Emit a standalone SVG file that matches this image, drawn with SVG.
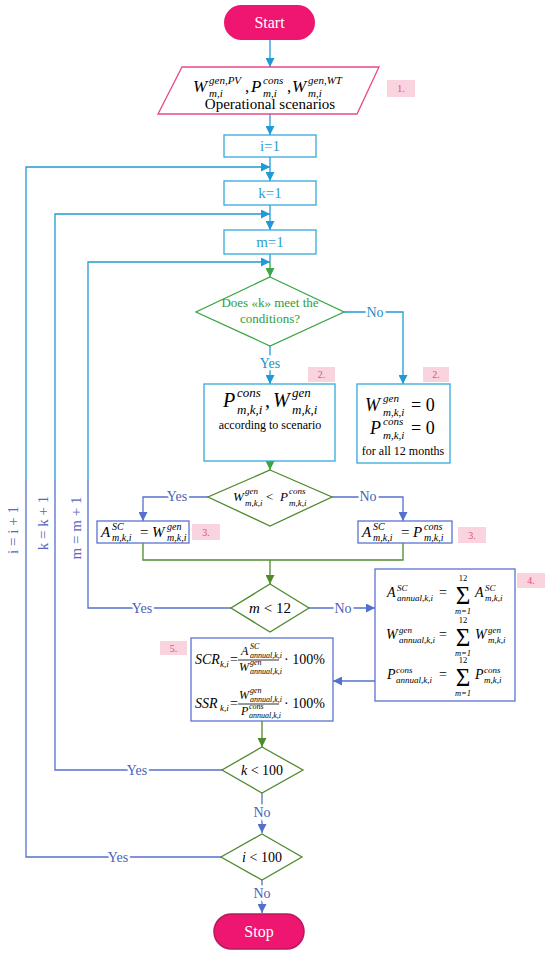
<svg xmlns="http://www.w3.org/2000/svg" width="550" height="954" viewBox="0 0 550 954" font-family="'Liberation Serif', 'Times New Roman', serif">
<style>
text{font-family:'Liberation Serif','Times New Roman',serif;fill:#000}
.mi{font-style:italic}
.cy{stroke:#1F9AD6;fill:none;stroke-width:1.3}
.gr{stroke:#3BA548;fill:none;stroke-width:1.3}
.ol{stroke:#4E8A2C;fill:none;stroke-width:1.3}
.vi{stroke:#5470CC;fill:none;stroke-width:1.3}
.bcy{fill:#fff;stroke:#35A9DA;stroke-width:1.3}
.bvi{fill:#fff;stroke:#5B73D2;stroke-width:1.3}
.dgr{fill:#fff;stroke:#3BA548;stroke-width:1.3}
.dol{fill:#fff;stroke:#4E8A2C;stroke-width:1.3}
.lab{fill:#F9D3DD}
.labt{fill:#E34D80;font-size:10px;text-anchor:middle}
.yn{font-size:14px;text-anchor:middle;paint-order:stroke;stroke:#fff;stroke-width:5px}
.yc{fill:#1F8FC8}
.yv{fill:#4A5FB8}
.loopt{font-size:15px;fill:#5468C0;text-anchor:middle;dominant-baseline:central}
.sig{font-size:25px;text-anchor:middle}
.lim{font-size:8.5px;text-anchor:middle}
</style>
<defs>
<marker id="aC" viewBox="0 0 10 10" refX="10" refY="5" markerUnits="userSpaceOnUse" markerWidth="9" markerHeight="9" orient="auto"><path d="M0,0 L10,5 L0,10 z" fill="#1F9AD6"/></marker>
<marker id="aG" viewBox="0 0 10 10" refX="10" refY="5" markerUnits="userSpaceOnUse" markerWidth="9" markerHeight="9" orient="auto"><path d="M0,0 L10,5 L0,10 z" fill="#3BA548"/></marker>
<marker id="aO" viewBox="0 0 10 10" refX="10" refY="5" markerUnits="userSpaceOnUse" markerWidth="9" markerHeight="9" orient="auto"><path d="M0,0 L10,5 L0,10 z" fill="#4E8A2C"/></marker>
<marker id="aV" viewBox="0 0 10 10" refX="10" refY="5" markerUnits="userSpaceOnUse" markerWidth="9" markerHeight="9" orient="auto"><path d="M0,0 L10,5 L0,10 z" fill="#5470CC"/></marker>
</defs>

<g id="connectors">
<path class="cy" d="M270,40 V67" marker-end="url(#aC)"/>
<path class="cy" d="M270,114 V135" marker-end="url(#aC)"/>
<path class="cy" d="M270,157 V181" marker-end="url(#aC)"/>
<path class="cy" d="M26,480 V167 H270" marker-end="url(#aC)"/>
<path class="cy" d="M270,205 V230" marker-end="url(#aC)"/>
<path class="cy" d="M55,480 V214 H270" marker-end="url(#aC)"/>
<path class="cy" d="M270,254 V262"/>
<path class="cy" d="M88,480 V262 H270" marker-end="url(#aC)"/>
<path class="gr" d="M270,262 V277" marker-end="url(#aG)"/>
<path class="cy" d="M344,312 H403 V384" marker-end="url(#aC)"/>
<path class="cy" d="M270,346 V384" marker-end="url(#aC)"/>
<path class="gr" d="M270,461 V470" marker-end="url(#aG)"/>
<path class="vi" d="M208,497 H143 V521" marker-end="url(#aV)"/>
<path class="vi" d="M332,497 H403 V521" marker-end="url(#aV)"/>
<path class="ol" d="M143,543 V560 H403 V543"/>
<path class="ol" d="M270,560 V584" marker-end="url(#aO)"/>
<path class="vi" d="M231,608 H88 V480"/>
<path class="vi" d="M309,608 H375" marker-end="url(#aV)"/>
<path class="vi" d="M375,681 H333" marker-end="url(#aV)"/>
<path class="ol" d="M262,721 V747" marker-end="url(#aO)"/>
<path class="vi" d="M222,770 H55 V480"/>
<path class="vi" d="M262,793 V833" marker-end="url(#aV)"/>
<path class="vi" d="M221,857 H26 V480"/>
<path class="vi" d="M262,880 V913" marker-end="url(#aV)"/>
<text class="yn yc" x="375" y="317">No</text>
<text class="yn yc" x="270" y="368">Yes</text>
<text class="yn yv" x="177" y="501">Yes</text>
<text class="yn yv" x="368" y="501">No</text>
<text class="yn yv" x="142" y="613">Yes</text>
<text class="yn yv" x="343" y="613">No</text>
<text class="yn yv" x="137" y="775">Yes</text>
<text class="yn yv" x="262" y="817">No</text>
<text class="yn yv" x="118" y="862">Yes</text>
<text class="yn yv" x="262" y="898">No</text>
<text class="loopt" transform="translate(13,530) rotate(-90)">i = i + 1</text>
<text class="loopt" transform="translate(43,523) rotate(-90)">k = k + 1</text>
<text class="loopt" transform="translate(76,528) rotate(-90)">m = m + 1</text>
</g>

<g id="start">
<rect x="224" y="5" width="91" height="35" rx="17.5" fill="#EE1670"/>
<text x="269.5" y="28" font-size="16" text-anchor="middle" style="fill:#fff">Start</text>
</g>

<g id="input">
<polygon points="182,67 379,67 357,114 158,114" fill="#fff" stroke="#E8488A" stroke-width="1.3"/>
<text class="mi" x="193" y="92" font-size="17">W</text>
<text class="mi" x="209" y="84" font-size="11">gen,PV</text>
<text class="mi" x="209" y="97" font-size="11">m,i</text>
<text x="245" y="92" font-size="17">,</text>
<text class="mi" x="251" y="92" font-size="17">P</text>
<text class="mi" x="263" y="84" font-size="11">cons</text>
<text class="mi" x="263" y="97" font-size="11">m,i</text>
<text x="287" y="92" font-size="17">,</text>
<text class="mi" x="292" y="92" font-size="17">W</text>
<text class="mi" x="308" y="84" font-size="11">gen,WT</text>
<text class="mi" x="308" y="97" font-size="11">m,i</text>
<text x="270" y="109" font-size="15" text-anchor="middle">Operational scenarios</text>
<rect class="lab" x="387" y="80" width="28" height="17"/>
<text class="labt" x="401" y="92">1.</text>
</g>

<g id="init_i">
<rect class="bcy" x="224" y="135" width="92" height="22"/>
<text x="270" y="151" font-size="15" text-anchor="middle" style="fill:#2A9FD6">i=1</text>
</g>
<g id="init_k">
<rect class="bcy" x="224" y="181" width="92" height="24"/>
<text x="270" y="198" font-size="15" text-anchor="middle" style="fill:#2A9FD6">k=1</text>
</g>
<g id="init_m">
<rect class="bcy" x="224" y="230" width="92" height="24"/>
<text x="270" y="247" font-size="15" text-anchor="middle" style="fill:#2A9FD6">m=1</text>
</g>

<g id="cond_k">
<polygon class="dgr" points="270,277 344,312 270,346 196,312"/>
<text x="270" y="307" font-size="13" text-anchor="middle" style="fill:#2E9B3F">Does «k» meet the</text>
<text x="270" y="323" font-size="13" text-anchor="middle" style="fill:#2E9B3F">conditions?</text>
</g>

<g id="scenario">
<rect class="bcy" x="204" y="384" width="131" height="77"/>
<text class="mi" x="223" y="407" font-size="20">P</text>
<text class="mi" x="237" y="397" font-size="13">cons</text>
<text class="mi" x="237" y="414" font-size="13">m,k,i</text>
<text x="265" y="407" font-size="20">,</text>
<text class="mi" x="273" y="407" font-size="20">W</text>
<text class="mi" x="292" y="397" font-size="13">gen</text>
<text class="mi" x="292" y="414" font-size="13">m,k,i</text>
<text x="270" y="429" font-size="12" text-anchor="middle">according to scenario</text>
<rect class="lab" x="308" y="367" width="27" height="15"/>
<text class="labt" x="321.5" y="378">2.</text>
</g>

<g id="zero">
<rect class="bcy" x="357" y="384" width="93" height="79"/>
<text class="mi" x="365" y="411" font-size="18">W</text>
<text class="mi" x="383" y="402" font-size="11">gen</text>
<text class="mi" x="383" y="416" font-size="11">m,k,i</text>
<text x="411" y="411" font-size="18">= 0</text>
<text class="mi" x="370" y="434" font-size="18">P</text>
<text class="mi" x="383" y="425" font-size="11">cons</text>
<text class="mi" x="383" y="439" font-size="11">m,k,i</text>
<text x="411" y="434" font-size="18">= 0</text>
<text x="403" y="455" font-size="12" text-anchor="middle">for all 12 months</text>
<rect class="lab" x="423" y="367" width="26" height="15"/>
<text class="labt" x="436" y="378">2.</text>
</g>

<g id="cmp">
<polygon class="dol" points="270,470 332,497 270,526 208,497"/>
<text class="mi" x="233" y="501" font-size="13">W</text>
<text class="mi" x="245" y="494" font-size="9">gen</text>
<text class="mi" x="245" y="506" font-size="9">m,k,i</text>
<text x="266" y="501" font-size="13">&lt;</text>
<text class="mi" x="280" y="501" font-size="13">P</text>
<text class="mi" x="289" y="494" font-size="9">cons</text>
<text class="mi" x="289" y="506" font-size="9">m,k,i</text>
</g>

<g id="asc_w">
<rect class="bvi" x="97" y="521" width="92" height="22"/>
<text class="mi" x="101" y="537" font-size="15">A</text>
<text class="mi" x="112" y="530" font-size="10">SC</text>
<text class="mi" x="112" y="541" font-size="10">m,k,i</text>
<text x="140" y="537" font-size="15">=</text>
<text class="mi" x="152" y="537" font-size="15">W</text>
<text class="mi" x="167" y="530" font-size="10">gen</text>
<text class="mi" x="167" y="541" font-size="10">m,k,i</text>
<rect class="lab" x="192" y="524" width="28" height="16"/>
<text class="labt" x="206" y="536">3.</text>
</g>

<g id="asc_p">
<rect class="bvi" x="358" y="521" width="94" height="22"/>
<text class="mi" x="362" y="537" font-size="15">A</text>
<text class="mi" x="373" y="530" font-size="10">SC</text>
<text class="mi" x="373" y="541" font-size="10">m,k,i</text>
<text x="401" y="537" font-size="15">=</text>
<text class="mi" x="413" y="537" font-size="15">P</text>
<text class="mi" x="424" y="530" font-size="10">cons</text>
<text class="mi" x="424" y="541" font-size="10">m,k,i</text>
<rect class="lab" x="458" y="527" width="28" height="16"/>
<text class="labt" x="472" y="539">3.</text>
</g>

<g id="cond_m">
<polygon class="dol" points="270,584 309,608 270,632 231,608"/>
<text x="270" y="613" font-size="15" text-anchor="middle"><tspan class="mi">m</tspan> &lt; 12</text>
</g>

<g id="annual">
<rect class="bvi" x="375" y="569" width="140" height="132"/>
<text class="mi" x="387" y="597" font-size="14">A</text>
<text class="mi" x="397" y="591" font-size="9">SC</text>
<text class="mi" x="397" y="601" font-size="9">annual,k,i</text>
<text x="439" y="597" font-size="14">=</text>
<text class="sig" x="463" y="604">Σ</text>
<text class="lim" x="463" y="581">12</text>
<text class="mi lim" x="463" y="614">m=1</text>
<text class="mi" x="475" y="597" font-size="14">A</text>
<text class="mi" x="485" y="591" font-size="9">SC</text>
<text class="mi" x="485" y="601" font-size="9">m,k,i</text>

<text class="mi" x="386" y="639" font-size="14">W</text>
<text class="mi" x="399" y="633" font-size="9">gen</text>
<text class="mi" x="399" y="643" font-size="9">annual,k,i</text>
<text x="439" y="639" font-size="14">=</text>
<text class="sig" x="463" y="646">Σ</text>
<text class="lim" x="463" y="623">12</text>
<text class="mi lim" x="463" y="656">m=1</text>
<text class="mi" x="475" y="639" font-size="14">W</text>
<text class="mi" x="488" y="633" font-size="9">gen</text>
<text class="mi" x="488" y="643" font-size="9">m,k,i</text>

<text class="mi" x="387" y="679" font-size="14">P</text>
<text class="mi" x="396" y="673" font-size="9">cons</text>
<text class="mi" x="396" y="683" font-size="9">annual,k,i</text>
<text x="439" y="679" font-size="14">=</text>
<text class="sig" x="463" y="686">Σ</text>
<text class="lim" x="463" y="663">12</text>
<text class="mi lim" x="463" y="696">m=1</text>
<text class="mi" x="475" y="679" font-size="14">P</text>
<text class="mi" x="484" y="673" font-size="9">cons</text>
<text class="mi" x="484" y="683" font-size="9">m,k,i</text>
<rect class="lab" x="517" y="573" width="28" height="15"/>
<text class="labt" x="531" y="584">4.</text>
</g>

<g id="ratios">
<rect class="bvi" x="191" y="638" width="142" height="83"/>
<text class="mi" x="195" y="664" font-size="14">SCR</text>
<text class="mi" x="220" y="667" font-size="9">k,i</text>
<text x="230" y="664" font-size="14">=</text>
<text class="mi" x="241" y="655" font-size="12">A</text>
<text class="mi" x="250" y="649" font-size="8">SC</text>
<text class="mi" x="250" y="658" font-size="8">annual,k,i</text>
<line x1="238" y1="660" x2="279" y2="660" stroke="#000" stroke-width="0.8"/>
<text class="mi" x="239" y="671" font-size="12">W</text>
<text class="mi" x="250" y="665" font-size="8">gen</text>
<text class="mi" x="250" y="674" font-size="8">annual,k,i</text>
<text x="284" y="664" font-size="14">· 100%</text>

<text class="mi" x="195" y="708" font-size="14">SSR</text>
<text class="mi" x="220" y="711" font-size="9">k,i</text>
<text x="230" y="708" font-size="14">=</text>
<text class="mi" x="239" y="699" font-size="12">W</text>
<text class="mi" x="250" y="693" font-size="8">gen</text>
<text class="mi" x="250" y="702" font-size="8">annual,k,i</text>
<line x1="238" y1="704" x2="279" y2="704" stroke="#000" stroke-width="0.8"/>
<text class="mi" x="241" y="715" font-size="12">P</text>
<text class="mi" x="249" y="709" font-size="8">cons</text>
<text class="mi" x="249" y="718" font-size="8">annual,k,i</text>
<text x="284" y="708" font-size="14">· 100%</text>
<rect class="lab" x="160" y="641" width="27" height="14"/>
<text class="labt" x="173.5" y="652">5.</text>
</g>

<g id="cond_k100">
<polygon class="dol" points="262,747 303,770 262,793 222,770"/>
<text x="262" y="775" font-size="14" text-anchor="middle"><tspan class="mi">k</tspan> &lt; 100</text>
</g>

<g id="cond_i100">
<polygon class="dol" points="262,834 302,857 262,880 221,857"/>
<text x="262" y="862" font-size="14" text-anchor="middle"><tspan class="mi">i</tspan> &lt; 100</text>
</g>

<g id="stop">
<rect x="214" y="914" width="90" height="35" rx="17.5" fill="#EE1670" stroke="#B8185E" stroke-width="1.5"/>
<text x="259" y="937" font-size="16" text-anchor="middle" style="fill:#fff">Stop</text>
</g>
</svg>
